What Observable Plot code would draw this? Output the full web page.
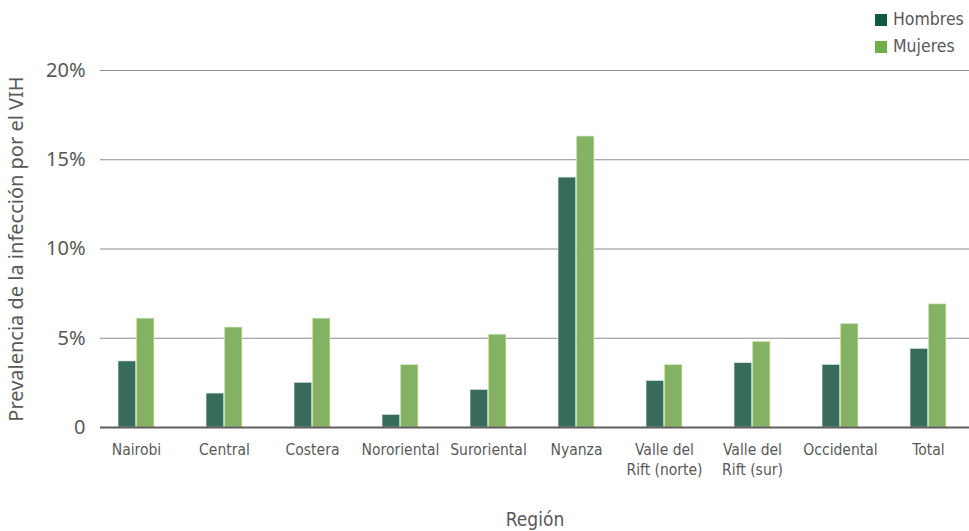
<!DOCTYPE html>
<html><head><meta charset="utf-8">
<script src="https://cdn.jsdelivr.net/npm/d3@7"></script>
<script src="https://cdn.jsdelivr.net/npm/@observablehq/plot@0.6"></script>
<style>
body{margin:0;background:#fff;font-family:"Liberation Sans Narrow","DejaVu Sans Condensed",sans-serif;}
#wrap{position:relative;width:969px;height:531px;}
#legend{position:absolute;left:875px;top:6px;font-size:17.5px;color:#595959;line-height:27px;}
#legend .sw{display:inline-block;width:12px;height:12px;margin-right:6px;vertical-align:-1px;}
</style></head><body>
<div id="wrap"><div id="legend"></div><div id="chart"></div></div>
<script>
const regions = ["Nairobi","Central","Costera","Nororiental","Suroriental","Nyanza","Valle del\nRift (norte)","Valle del\nRift (sur)","Occidental","Total"];
const hombres = [3.7,1.9,2.5,0.7,2.1,14.0,2.6,3.6,3.5,4.4];
const mujeres = [6.1,5.6,6.1,3.5,5.2,16.3,3.5,4.8,5.8,6.9];
const yTicks = [0,5,10,15,20];
const series = ["Hombres","Mujeres"];
const barColors = ["#376b5c","#84b463"];
const legendColors = ["#0c5a3f","#6fae48"];

const dataH = regions.map((r,i)=>({region:r, value:hombres[i]}));
const dataM = regions.map((r,i)=>({region:r, value:mujeres[i]}));

const grey = "#595959";
const chart = Plot.plot({
  width: 969, height: 531,
  marginTop: 70, marginBottom: 104, marginLeft: 100, marginRight: 0,
  style: {fontFamily: '"Liberation Sans Narrow","DejaVu Sans Condensed",sans-serif', color: grey, background: "#fff"},
  x: {domain: regions, range: [88.65, 975.65], padding: 0},
  y: {domain: [0, 20]},
  marks: [
    Plot.ruleY(yTicks.filter(d=>d>0), {stroke: "#8c8c8c", strokeWidth: 1.2}),
    Plot.barY(dataH, {x: "region", y: "value", fill: barColors[0], insetLeft: 26.05, insetRight: 44.35, stroke: "#d9e6de", strokeWidth: 0.6}),
    Plot.barY(dataM, {x: "region", y: "value", fill: barColors[1], insetLeft: 44.35, insetRight: 26.05, stroke: "#d8ecc9", strokeWidth: 0.6}),
    Plot.ruleY([0], {stroke: "#5f5f5f", strokeWidth: 2.2}),
    Plot.axisY({ticks: yTicks, tickSize: 0, tickPadding: 15, tickFormat: d => d === 0 ? "0" : d + "%",
      fontSize: 20, fontFamily: '"Noto Sans","DejaVu Sans",sans-serif', fill: grey,
      label: "Prevalencia de la infección por el VIH", labelAnchor: "center", labelArrow: "none", labelOffset: 92}),
    Plot.axisX({tickSize: 0, tickPadding: 14, fontSize: 15.5, fill: grey, lineHeight: 1.25,
      label: "Región", labelAnchor: "center", labelArrow: "none", labelOffset: 98})
  ]
});
chart.querySelectorAll("g[aria-label='y-axis label'] text").forEach(t=>{ t.setAttribute("font-size","20"); t.setAttribute("fill", grey); });
chart.querySelectorAll("g[aria-label='x-axis label'] text").forEach(t=>{ t.setAttribute("font-size","19"); t.setAttribute("fill", grey); });
document.getElementById("chart").appendChild(chart);

const lg = document.getElementById("legend");
series.forEach((s,i)=>{
  const d = document.createElement("div");
  d.innerHTML = `<span class="sw" style="background:${legendColors[i]}"></span>${s}`;
  lg.appendChild(d);
});
</script></body></html>
